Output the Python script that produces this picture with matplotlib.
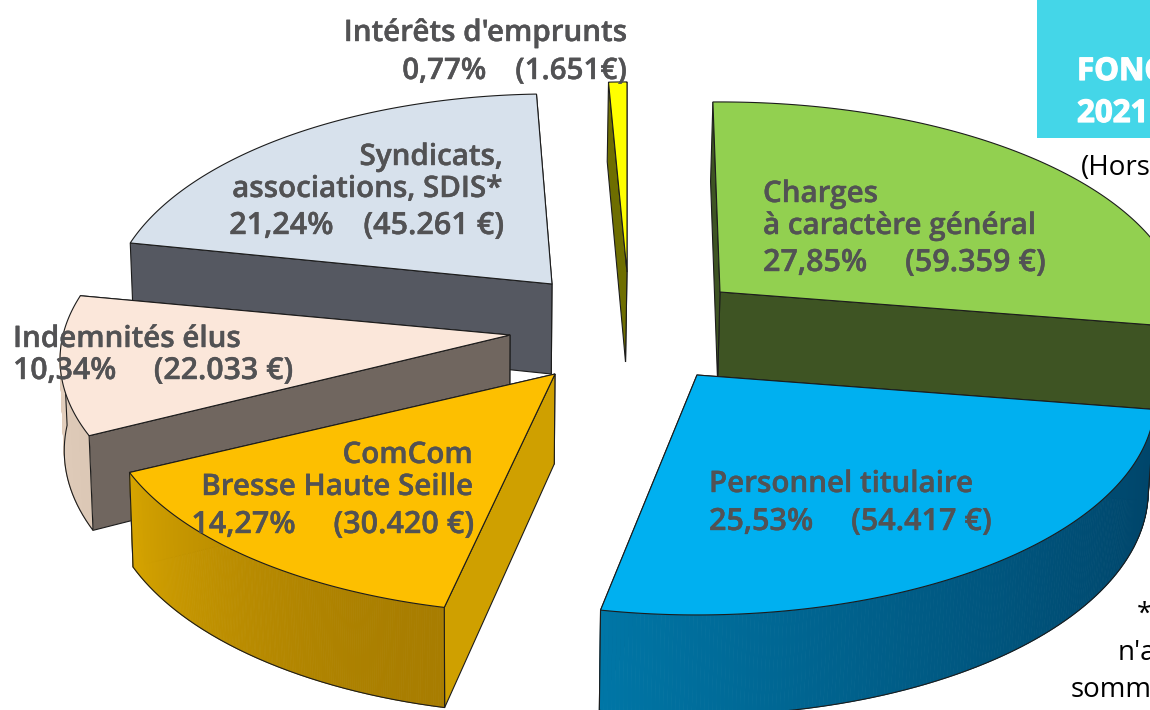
import numpy as np
import matplotlib
matplotlib.use("Agg")
import matplotlib.pyplot as plt
import matplotlib.patheffects as pe

# Values, in the order the slices run clockwise from the top
names = [["Charges", "à caractère général"], ["Personnel titulaire"],
         ["ComCom", "Bresse Haute Seille"], ["Indemnités élus"],
         ["Syndicats,", "associations, SDIS*"], ["Intérêts d'emprunts"]]
amounts = [59359, 54417, 30420, 22033, 45261, 1651]
percents = ["27,85%", "25,53%", "14,27%", "10,34%", "21,24%", "0,77%"]
amount_labels = ["(59.359 €)", "(54.417 €)", "(30.420 €)", "(22.033 €)", "(45.261 €)", "(1.651€)"]

# Look of each slice
top_colors = ["#92D050", "#00B0F0", "#FDBF00", "#FBE7DA", "#D7E1EC", "#FFFF00"]
side_colors = ["#3E5423", "#00577A", "#CFA000", "#70665F", "#555861", "#6E6E00"]
rim_start = ["#3E5423", "#00456A", "#A87D00", "#DCC8B6", "#555861", "#6E6E00"]
rim_end = ["#4F6B2C", "#0076A6", "#D6A400", "#E4D0BE", "#555861", "#6E6E00"]

# Exploded position of each slice (pixels), its width and a small turn
apex_x = [720, 697, 555, 510, 552, 627]
apex_y = [292, 375, 374, 335, 284, 272]
radius_x = [460, 455, 450, 447, 440, 430]
turn = [-1.0, -1.2, 0.6, 0.0, 0.5, 0.0]
draw_order = [4, 3, 2, 5, 0, 1]

radius_y = 215
persp = 0.116
depth = 90
vanish_x = 480
shrink = 0.99

plt.rcParams["font.family"] = ["Open Sans", "DejaVu Sans"]
label_color = "#525254"
label_size = 21.3
heavy = [pe.withStroke(linewidth=0.3, foreground=label_color)]
heavy_white = [pe.withStroke(linewidth=0.9, foreground="white")]

fig = plt.figure(figsize=(11.5, 7.1), dpi=100)
ax = fig.add_axes([0, 0, 1, 1])
ax.set_xlim(0, 1150)
ax.set_ylim(710, 0)
ax.axis("off")


def top_point(theta, i):
    v = -np.cos(theta)
    p = 1 + persp * v
    return apex_x[i] + radius_x[i] * np.sin(theta) * p, apex_y[i] + radius_y * v * p, p


def down(x, y, p):
    return vanish_x + (x - vanish_x) * shrink, y + depth * p


def radial_wall(theta, i, z):
    x, y, p = top_point(theta, i)
    xb, yb = down(x, y, p)
    axb, ayb = down(apex_x[i], apex_y[i], 1)
    ax.fill([apex_x[i], x, xb, axb], [apex_y[i], y, yb, ayb], fc=side_colors[i],
            ec="#1c1c1c", lw=0.8, zorder=z)


edges = np.concatenate([[0], np.cumsum(amounts)]) / sum(amounts) * 2 * np.pi

for order, i in enumerate(draw_order):
    start = edges[i] + np.radians(turn[i])
    end = edges[i + 1] + np.radians(turn[i])
    if i == 5:
        # the last slice closes the circle just left of the top
        start, end = start - 2 * np.pi, end - 2 * np.pi
    base = order * 10
    th = np.linspace(start, end, 200)
    xs, ys, ps = top_point(th, i)

    radial_wall(end, i, base)
    radial_wall(start, i, base + 1)

    # outer wall, shaded along the arc, only where it faces the viewer
    front = -np.cos(th) > 0
    if front.sum() > 1:
        xt, yt = xs[front], ys[front]
        xb, yb = down(xt, yt, ps[front])
        c0 = np.array(matplotlib.colors.to_rgb(rim_start[i]))
        c1 = np.array(matplotlib.colors.to_rgb(rim_end[i]))
        for k in range(len(xt) - 1):
            f = (k / (len(xt) - 2)) ** 1.5
            col = c0 + (c1 - c0) * f
            ax.fill([xt[k], xt[k + 1], xb[k + 1], xb[k]], [yt[k], yt[k + 1], yb[k + 1], yb[k]],
                    fc=col, ec=col, lw=0.6, zorder=base + 2)
        # bottom edge and the two ends of the wall
        ax.plot(np.r_[xt[0], xb, xt[-1]], np.r_[yt[0], yb, yt[-1]], color="#1c1c1c", lw=0.8,
                zorder=base + 3)

    ax.fill(np.r_[apex_x[i], xs], np.r_[apex_y[i], ys], fc=top_colors[i],
            ec="#1c1c1c", lw=0.8, zorder=base + 4)

# Labels: x, alignment and baseline of each line
label_x = [763, 709, 473, 13, 503, 627]
label_ha = ["left", "left", "right", "left", "right", "right"]
label_base = [[202, 234, 271], [492, 530], [463, 495, 533], [347, 379], [165, 197, 234], [41, 79]]
value_size = [22, 22, 22, 21.8, 22, 21.3]
gaps = ["    \u2009", "    \u2009", "    \u2009", "    \u2009", "   \u2009", "   \u2009"]

for i in range(len(names)):
    for line, yb in zip(names[i], label_base[i]):
        ax.text(label_x[i], yb, line, ha=label_ha[i], va="baseline", color=label_color,
                fontsize=label_size, fontweight="semibold", zorder=200, path_effects=heavy)
    ax.text(label_x[i], label_base[i][-1], percents[i] + gaps[i] + amount_labels[i], ha=label_ha[i],
            va="baseline", color=label_color, fontsize=value_size[i], fontweight="semibold",
            zorder=200, path_effects=heavy)

# Panel and side notes, cut by the edge of the picture
ax.fill([1037, 1150, 1150, 1037], [0, 0, 138, 138], fc="#44D6E8", ec="none", zorder=100)
ax.text(1077, 80, "FONC", color="white", fontsize=22.5, fontweight="bold", va="baseline",
        zorder=201, path_effects=heavy_white)
ax.text(1077, 122, "2021", color="white", fontsize=22.5, fontweight="bold", va="baseline",
        zorder=201, path_effects=heavy_white)
ax.text(1081, 175, "(Hors", color="black", fontsize=20, va="baseline", zorder=201)
ax.text(1137, 622, "*", color="black", fontsize=20, va="baseline", zorder=201)
ax.text(1118, 660, "n'a", color="black", fontsize=20, va="baseline", zorder=201)
ax.text(1071, 697, "somm", color="black", fontsize=20, va="baseline", zorder=201)

plt.savefig("out.png", dpi=100)
